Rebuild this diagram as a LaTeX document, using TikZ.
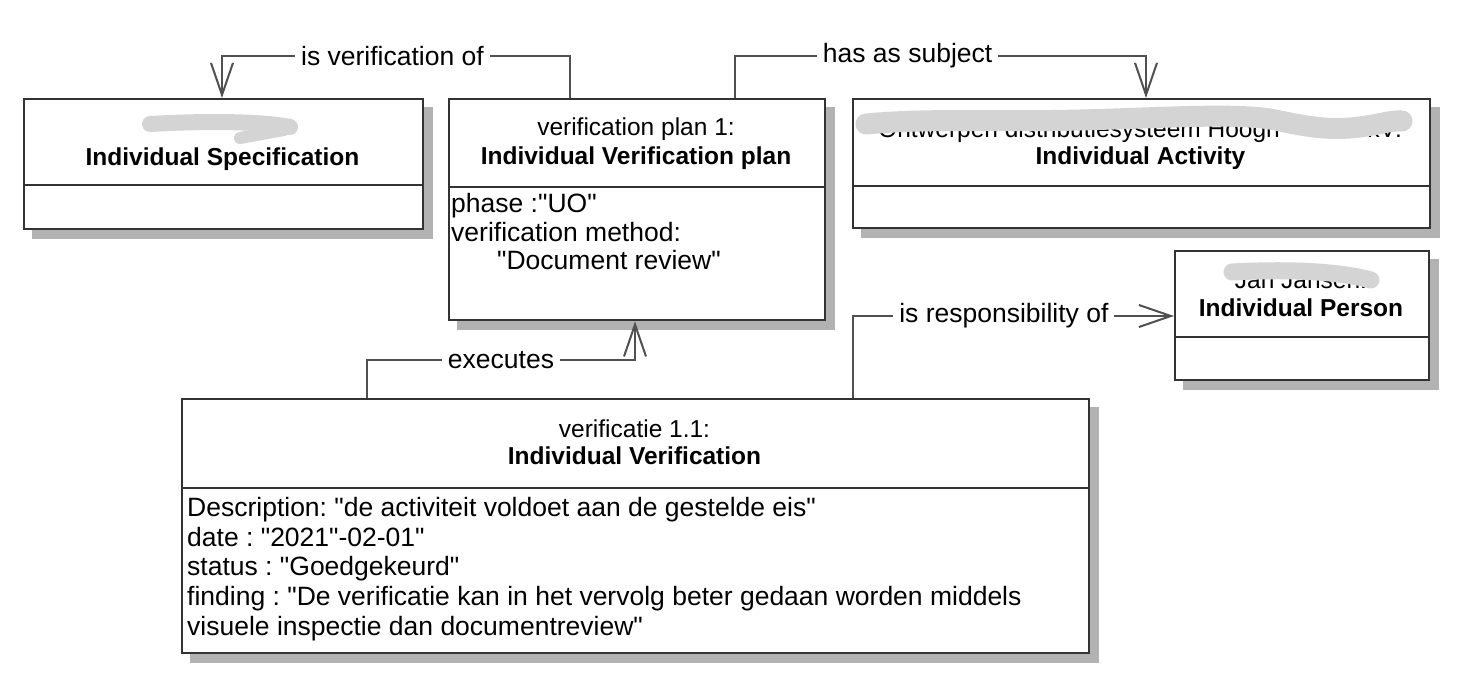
\documentclass[tikz,border=0pt]{standalone}
\usepackage{fontspec}
\setmainfont{Liberation Sans}[Ligatures=TeXOff]
\usetikzlibrary{arrows.meta,backgrounds,calc}
\definecolor{boxc}{HTML}{333333}
\definecolor{connc}{HTML}{505050}
\definecolor{shadowc}{HTML}{B2B2B2}
\definecolor{blurc}{HTML}{D4D4D4}
\begin{document}
\frenchspacing
\begin{tikzpicture}[x=1pt,y=-1pt,
  umlbox/.style={draw=boxc, line width=2.4pt, fill=white, inner sep=0pt, anchor=north west},
  divider/.style={draw=boxc, line width=2.4pt},
  conn/.style={draw=connc, line width=2pt},
  openarrow/.style={-{Straight Barb[length=32pt,width=22pt]}},
  lbl/.style={fill=white, inner xsep=6pt, inner ysep=4pt, font=\fontsize{26.5}{30}\selectfont, text=black},
  title/.style={font=\fontsize{24.5}{28}\selectfont, inner sep=0pt, anchor=base},
  ctitle/.style={font=\fontsize{24.5}{28}\selectfont\bfseries, inner sep=0pt, anchor=base},
  attr/.style={font=\fontsize{26.5}{30}\selectfont, inner sep=0pt, anchor=base west},
  blur/.style={draw=blurc, line cap=round, line join=round},
]
\useasboundingbox (0,0) rectangle (1459,675);

% boxes
\node[umlbox, minimum width=399pt, minimum height=130pt] (A) at (23,98) {};
\node[umlbox, minimum width=376pt, minimum height=221pt] (B) at (448,98) {};
\node[umlbox, minimum width=577pt, minimum height=129pt] (C) at (852,98) {};
\node[umlbox, minimum width=254pt, minimum height=129pt] (D) at (1174,250) {};
\node[umlbox, minimum width=907pt, minimum height=254pt] (E) at (181,398) {};

\draw[divider] (A.west |- 0,185) -- (A.east |- 0,185);
\draw[divider] (B.west |- 0,187) -- (B.east |- 0,187);
\draw[divider] (C.west |- 0,186) -- (C.east |- 0,186);
\draw[divider] (D.west |- 0,337) -- (D.east |- 0,337);
\draw[divider] (E.west |- 0,488) -- (E.east |- 0,488);

% shadows
\begin{scope}[on background layer]
  \fill[white] (0,0) rectangle (1459,675);
  \foreach \n in {A,B,C,D,E}
    \fill[shadowc] ($(\n.north west)+(9,9)$) rectangle ($(\n.south east)+(9,9)$);
\end{scope}

% box A
\node[ctitle] (At) at (222.5,165) {Individual Specification};
\draw[blur, line width=16pt] (150,124) .. controls (200,121) and (260,121) .. (290,127);
\draw[blur, line width=12pt] (240,138) -- (284,130);

% box B
\node[title] (Bn) at (636,135) {verification plan 1:};
\node[ctitle] (Bt) at (636,164) {Individual Verification plan};
\node[attr] (B1) at (451,212.7) {phase :"UO"};
\node[attr] (B2) at (451,241) {verification method:};
\node[attr] (B3) at (497,269.3) {"Document review"};

% box C
\node[title, anchor=base west] (Cn1) at (878,137) {Ontwerpen distributiesysteem Hoogh};
\node[title, anchor=base east] (Cn2) at (1402,137) {kV:};
\draw[blur, line width=21pt] (866,124) .. controls (930,118) and (1000,122) .. (1080,120)
  .. controls (1160,118) and (1230,113) .. (1270,119)
  .. controls (1300,125) and (1320,130) .. (1350,128)
  .. controls (1375,126) and (1390,120) .. (1402,121);
\node[ctitle] (Ct) at (1140.5,164) {Individual Activity};

% box D
\node[title] (Dn) at (1301,288) {Jan Jansen:};
\draw[blur, line width=17pt] (1232,272) .. controls (1270,270) and (1330,269) .. (1371,280);
\node[ctitle] (Dt) at (1301,316) {Individual Person};

% box E
\node[title] (En) at (634.5,437) {verificatie 1.1:};
\node[ctitle] (Et) at (634.5,464) {Individual Verification};
\node[attr] (E1) at (187,516) {Description: "de activiteit voldoet aan de gestelde eis"};
\node[attr] (E2) at (187,546) {date : "2021"-02-01"};
\node[attr] (E3) at (187,575.5) {status : "Goedgekeurd"};
\node[attr] (E4) at (187,605) {finding : "De verificatie kan in het vervolg beter gedaan worden middels};
\node[attr] (E5) at (187,635) {visuele inspectie dan documentreview"};

% connectors
\draw[conn, openarrow] (B.north -| 570,0) -- (570,56)
  -- node[lbl, pos=0.51] (L1) {is verification of} (222,56) -- (A.north -| 222,0);
\draw[conn, openarrow] (B.north -| 735,0) -- (735,56)
  -- node[lbl, pos=0.42] (L2) {has as subject} (1146,56) -- (C.north -| 1146,0);
\draw[conn, openarrow] (E.north -| 367,0) -- (367,360)
  -- node[lbl, pos=0.5] (L3) {executes} (635,360) -- (B.south -| 635,0);
\draw[conn, openarrow] (E.north -| 853,0) -- (853,316)
  -- node[lbl, pos=0.47] (L4) {is responsibility of} (D.west |- 0,316);
\end{tikzpicture}
\end{document}
